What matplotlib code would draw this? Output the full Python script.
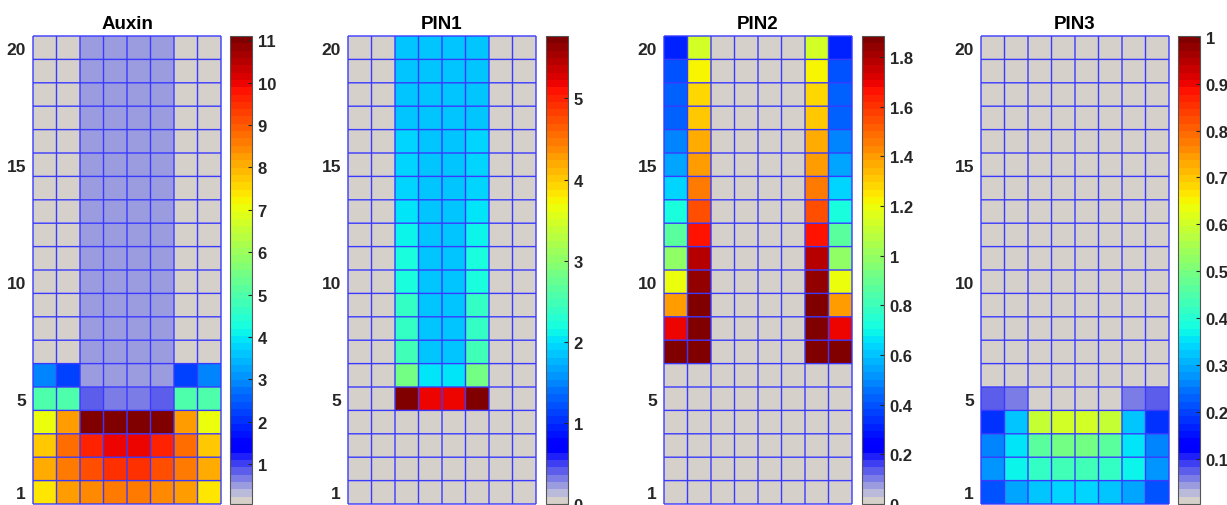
import numpy as np
import matplotlib
matplotlib.use("Agg")
import matplotlib.pyplot as plt
from matplotlib.colors import ListedColormap, Normalize

# data: rows listed bottom (row 1) to top (row 20), 8 columns each
auxin = [
    [7.35, 8.17, 8.40, 8.56, 8.56, 8.40, 8.17, 7.35],
    [8.00, 8.67, 9.07, 9.38, 9.38, 9.07, 8.67, 8.00],
    [7.68, 8.70, 9.70, 10.05, 10.05, 9.70, 8.70, 7.68],
    [7.10, 8.23, 10.99, 11.10, 11.10, 10.99, 8.23, 7.10],
    [5.03, 5.00, 0.84, 0.66, 0.66, 0.84, 5.00, 5.03],
    [2.82, 2.13, 0.49, 0.49, 0.49, 0.49, 2.13, 2.82],
    [0.06, 0.06, 0.49, 0.49, 0.49, 0.49, 0.06, 0.06],
    [0.06, 0.06, 0.49, 0.49, 0.49, 0.49, 0.06, 0.06],
    [0.06, 0.06, 0.49, 0.49, 0.49, 0.49, 0.06, 0.06],
    [0.06, 0.06, 0.49, 0.49, 0.49, 0.49, 0.06, 0.06],
    [0.06, 0.06, 0.49, 0.49, 0.49, 0.49, 0.06, 0.06],
    [0.06, 0.06, 0.49, 0.49, 0.49, 0.49, 0.06, 0.06],
    [0.06, 0.06, 0.49, 0.49, 0.49, 0.49, 0.06, 0.06],
    [0.06, 0.06, 0.49, 0.49, 0.49, 0.49, 0.06, 0.06],
    [0.06, 0.06, 0.49, 0.49, 0.49, 0.49, 0.06, 0.06],
    [0.06, 0.06, 0.49, 0.49, 0.49, 0.49, 0.06, 0.06],
    [0.06, 0.06, 0.49, 0.49, 0.49, 0.49, 0.06, 0.06],
    [0.06, 0.06, 0.49, 0.49, 0.49, 0.49, 0.06, 0.06],
    [0.06, 0.06, 0.49, 0.49, 0.49, 0.49, 0.06, 0.06],
    [0.06, 0.06, 0.49, 0.49, 0.49, 0.49, 0.06, 0.06],
]
pin1 = [
    [0, 0, 0, 0, 0, 0, 0, 0],
    [0, 0, 0, 0, 0, 0, 0, 0],
    [0, 0, 0, 0, 0, 0, 0, 0],
    [0, 0, 0, 0, 0, 0, 0, 0],
    [0, 0, 5.77, 5.22, 5.22, 5.77, 0, 0],
    [0, 0, 2.80, 2.00, 2.00, 2.80, 0, 0],
    [0, 0, 2.52, 1.86, 1.86, 2.52, 0, 0],
    [0, 0, 2.40, 1.84, 1.84, 2.40, 0, 0],
    [0, 0, 2.35, 1.84, 1.84, 2.35, 0, 0],
    [0, 0, 2.24, 1.85, 1.85, 2.24, 0, 0],
    [0, 0, 2.22, 1.85, 1.85, 2.22, 0, 0],
    [0, 0, 2.10, 1.86, 1.86, 2.10, 0, 0],
    [0, 0, 2.02, 1.86, 1.86, 2.02, 0, 0],
    [0, 0, 1.98, 1.86, 1.86, 1.98, 0, 0],
    [0, 0, 1.96, 1.86, 1.86, 1.96, 0, 0],
    [0, 0, 1.94, 1.87, 1.87, 1.94, 0, 0],
    [0, 0, 1.89, 1.87, 1.87, 1.89, 0, 0],
    [0, 0, 1.88, 1.87, 1.87, 1.88, 0, 0],
    [0, 0, 1.88, 1.87, 1.87, 1.88, 0, 0],
    [0, 0, 1.88, 1.87, 1.87, 1.88, 0, 0],
]
pin2 = [
    [0, 0, 0, 0, 0, 0, 0, 0],
    [0, 0, 0, 0, 0, 0, 0, 0],
    [0, 0, 0, 0, 0, 0, 0, 0],
    [0, 0, 0, 0, 0, 0, 0, 0],
    [0, 0, 0, 0, 0, 0, 0, 0],
    [0, 0, 0, 0, 0, 0, 0, 0],
    [1.885, 1.857, 0, 0, 0, 0, 1.857, 1.885],
    [1.68, 1.88, 0, 0, 0, 0, 1.88, 1.68],
    [1.41, 1.865, 0, 0, 0, 0, 1.865, 1.41],
    [1.18, 1.83, 0, 0, 0, 0, 1.83, 1.18],
    [1.00, 1.77, 0, 0, 0, 0, 1.77, 1.00],
    [0.86, 1.65, 0, 0, 0, 0, 1.65, 0.86],
    [0.73, 1.56, 0, 0, 0, 0, 1.56, 0.73],
    [0.64, 1.47, 0, 0, 0, 0, 1.47, 0.64],
    [0.55, 1.40, 0, 0, 0, 0, 1.40, 0.55],
    [0.50, 1.36, 0, 0, 0, 0, 1.36, 0.50],
    [0.44, 1.30, 0, 0, 0, 0, 1.30, 0.44],
    [0.42, 1.27, 0, 0, 0, 0, 1.27, 0.42],
    [0.41, 1.23, 0, 0, 0, 0, 1.23, 0.41],
    [0.31, 1.12, 0, 0, 0, 0, 1.12, 0.31],
]
g3 = 0.003
pin3 = [
    [0.22, 0.29, 0.32, 0.337, 0.337, 0.32, 0.29, 0.22],
    [0.27, 0.375, 0.415, 0.43, 0.43, 0.415, 0.375, 0.27],
    [0.258, 0.36, 0.47, 0.50, 0.50, 0.47, 0.36, 0.258],
    [0.19, 0.32, 0.595, 0.61, 0.61, 0.595, 0.32, 0.19],
    [0.073, 0.058, g3, g3, g3, g3, 0.058, 0.073],
] + [[g3] * 8 for _ in range(15)]

titles = ["Auxin", "PIN1", "PIN2", "PIN3"]
grids = [auxin, pin1, pin2, pin3]
clims = [(0.06, 11.1), (0.0, 5.77), (0.0, 1.885), (0.003, 1.002)]
cbar_ticks = [
    [1, 2, 3, 4, 5, 6, 7, 8, 9, 10, 11],
    [0, 1, 2, 3, 4, 5],
    [0, 0.2, 0.4, 0.6, 0.8, 1, 1.2, 1.4, 1.6, 1.8],
    [0.1, 0.2, 0.3, 0.4, 0.5, 0.6, 0.7, 0.8, 0.9, 1],
]
ytick_vals = [1, 5, 10, 15, 20]

# colormap: jet(64) with the low end replaced by grey + lavender ramp to blue
jet = plt.get_cmap("jet")(np.linspace(0, 1, 64))
grey = np.array([0.835, 0.816, 0.792, 1.0])
c0 = np.array([0.85, 0.85, 0.83, 1.0])
blue = np.array([0.0, 0.0, 1.0, 1.0])
colors = jet.copy()
colors[0] = grey
for j in range(1, 7):
    colors[j] = c0 * (1 - j / 7) + blue * (j / 7)
colors[7] = blue
cmap = ListedColormap(colors)

plt.rcParams["font.family"] = ["Liberation Sans", "DejaVu Sans"]
plt.rcParams["font.weight"] = "bold"

fig = plt.figure(figsize=(12.27, 5.06), dpi=100)
W, H = 1227, 506
ax_x = [33, 348, 664, 981]
cb_x = [230, 546, 862, 1178]
top, bot = 37, 505

for i in range(4):
    ax = fig.add_axes([ax_x[i] / W, (H - bot) / H, 188 / W, (bot - top) / H])
    cax = fig.add_axes([cb_x[i] / W, (H - bot) / H, 22 / W, (bot - top) / H])
    data = np.array(grids[i])
    xe = np.arange(0.5, 9.0, 1.0)
    ye = np.arange(0.5, 21.0, 1.0)
    norm = Normalize(vmin=clims[i][0], vmax=clims[i][1])
    mesh = ax.pcolormesh(xe, ye, data, cmap=cmap, norm=norm, linewidth=0)
    # cell borders
    for seg in (ax.vlines(xe, 0.5, 20.5), ax.hlines(ye, 0.5, 8.5)):
        seg.set_color("#3a3aff")
        seg.set_linewidth(1.0)
        seg.set_snap(False)
        seg.set_clip_on(False)
    ax.set_xlim(0.5, 8.5)
    ax.set_ylim(0.5, 20.5)
    ax.set_xticks([])
    ax.set_yticks(ytick_vals)
    ax.tick_params(axis="y", length=0, pad=5, labelsize=12.5, labelcolor="#262626")
    for s in ax.spines.values():
        s.set_visible(False)
    ax.set_title(titles[i], fontsize=13.5, fontweight="bold", pad=6)

    cb = fig.colorbar(mesh, cax=cax)
    cb.set_ticks(cbar_ticks[i])
    cb.set_ticklabels([f"{t:g}" for t in cbar_ticks[i]])
    cb.ax.tick_params(direction="in", length=3, width=0.8, pad=4,
                      labelsize=12, labelcolor="#262626", color="#262626")
    cb.outline.set_edgecolor("#555555")
    cb.outline.set_linewidth(0.8)

fig.savefig("out.png", dpi=100)
